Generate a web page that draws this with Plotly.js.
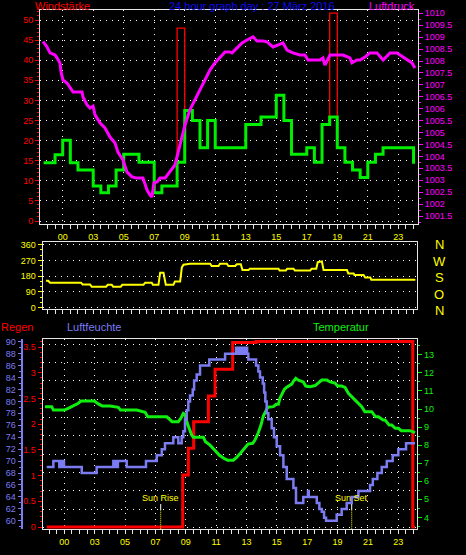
<!DOCTYPE html>
<html><head><meta charset="utf-8">
<script src="https://cdn.plot.ly/plotly-3.0.1.min.js"></script>
<style>html,body{margin:0;padding:0;background:#000;overflow:hidden}#chart{width:466px;height:555px}</style>
</head><body><div id="chart"></div>
<script>
// ---------- data (hours; tick "00" sits at hour 1) ----------
const hourTicks  = [1,3,5,7,9,11,13,15,17,19,21,23];
const hourLabels = ["00","03","05","07","09","11","13","15","17","19","21","23"];

const windTimes = [-0.25,0.5,1.0,1.5,2.0,3.0,3.5,4.0,4.5,5.0,6.0,7.0,7.5,8.5,9.0,9.5,10.0,10.5,11.0,13.0,14.0,15.0,15.5,16.0,17.0,17.5,18.0,18.5,19.0,19.5,20.0,20.5,21.0,21.5,22.0,24.0,24.1];
const windMean  = [14.5,16.5,20.1,14.5,12.7,8.7,7.0,8.7,12.7,16.6,14.6,7.0,8.7,14.6,27.5,25.0,18.2,25.0,18.2,24.0,25.9,31.3,25.0,16.6,18.2,14.6,24.0,25.9,18.2,14.6,12.7,10.8,14.6,16.6,18.2,14.6,14.6];
const windGust  = [14.5,16.5,20.1,14.5,12.7,8.7,7.0,8.7,12.7,16.6,14.6,7.0,8.7,48.0,27.5,25.0,18.2,25.0,18.2,24.0,25.9,31.3,25.0,16.6,18.2,14.6,24.0,51.7,18.2,14.6,12.7,10.8,14.6,16.6,18.2,14.6,14.6];

const pressTimes = [-0.29,-0.03,0.17,0.50,0.63,0.82,0.89,1.02,1.28,1.48,1.68,2.27,2.33,2.59,2.79,2.99,3.12,3.45,3.77,4.10,4.43,4.62,4.95,5.21,5.54,5.87,6.26,6.53,6.72,6.85,6.98,7.18,7.38,7.71,8.04,8.36,8.69,9.02,9.34,9.67,9.99,10.32,10.65,10.98,11.31,11.64,11.97,12.10,12.43,12.76,13.08,13.48,13.74,14.13,14.39,14.79,15.11,15.44,15.70,16.09,16.55,16.88,17.08,17.87,18.06,18.19,18.52,19.38,19.83,19.96,20.29,20.49,20.82,21.14,21.60,22.00,22.46,22.91,23.11,23.57,23.90,24.09];
const pressure   = [1008.81,1008.59,1008.34,1008.25,1008.13,1007.92,1007.54,1007.20,1007.08,1006.87,1006.70,1006.70,1006.49,1006.16,1006.03,1006.11,1005.74,1005.40,1005.19,1004.81,1004.56,1004.18,1003.85,1003.35,1003.14,1003.09,1003.09,1002.59,1002.38,1002.30,1002.89,1002.93,1003.09,1003.09,1003.35,1003.64,1004.48,1005.32,1005.95,1006.37,1006.78,1007.20,1007.62,1007.92,1008.13,1008.38,1008.38,1008.34,1008.55,1008.76,1008.88,1009.01,1008.84,1008.84,1008.80,1008.59,1008.67,1008.76,1008.46,1008.34,1008.25,1008.25,1008.04,1008.04,1008.13,1007.83,1008.25,1008.25,1008.13,1007.92,1008.04,1008.04,1008.17,1008.34,1008.34,1008.04,1008.34,1008.34,1008.25,1008.04,1007.92,1007.71];

const dirTimes  = [-0.09,0.05,0.17,2.20,2.30,2.79,2.90,3.84,3.95,4.21,4.30,4.80,4.90,6.29,6.40,6.83,6.90,7.27,7.38,7.60,7.75,8.25,8.35,8.69,8.80,8.91,9.34,10.66,10.75,11.20,11.30,11.75,11.85,12.29,12.40,12.66,12.77,13.17,13.25,15.13,15.20,15.61,15.70,16.11,16.20,17.21,17.30,17.60,17.70,17.97,18.08,19.61,19.70,20.05,20.10,20.70,20.80,21.14,21.20,24.09];
const direction = [154,154,143,143,133,133,120,120,131,131,120,120,131,131,143,143,131,131,200,200,131,131,150,150,230,246,251,251,238,238,251,251,238,238,248,248,215,215,223,223,213,213,223,223,213,213,223,223,260,265,215,215,196,196,187,187,173,173,160,160];
const dirLetters = ["N","W","S","O","N"];

const humTimes = [-0.16,0.28,0.67,0.72,0.77,0.82,0.87,0.92,0.98,2.15,3.13,4.23,4.28,4.33,4.38,4.43,4.48,4.53,5.11,6.38,7.09,7.42,7.63,8.18,8.51,8.73,8.84,8.95,9.06,9.17,9.28,9.46,9.55,9.72,9.94,10.55,11.59,12.31,12.40,12.48,12.56,12.64,12.72,12.80,12.88,12.96,13.04,13.12,13.63,13.78,13.89,14.07,14.16,14.24,14.33,14.44,14.66,14.81,14.99,15.21,15.43,15.65,16.09,16.26,16.74,17.05,17.10,17.63,17.80,17.96,18.11,18.24,18.94,19.27,19.60,19.93,20.37,21.14,21.32,21.62,21.91,22.24,22.63,23.00,23.51,24.10];
const humidity = [69,70,69,70,69,70,69,70,69,68,69,70,69,70,69,70,69,70,69,70,71,72,73,74,73,74,75,77,78.5,80,81,82,83.5,84.5,86,87,88,89,88,89,88,89,88,89,88,89,88,87,86,85,84,83,81.5,80,78,77,75.5,74,72.5,71,69,67,65.5,63,64,65,64,63,62,61.5,60.5,60,61,62,63,64,65,66,67,68,69,70,71,72,73,73];

const tempTimes = [-0.27,0.17,0.28,1.0,1.26,1.59,1.92,2.1,2.98,3.24,3.5,4.01,4.56,4.7,5.77,6.32,6.5,7.75,7.96,8.1,8.51,8.67,8.84,8.95,9.1,9.25,9.39,9.5,10.16,10.3,10.6,10.9,11.2,11.5,11.75,12.13,12.35,12.6,12.85,13.1,13.41,13.56,13.78,13.95,14.1,14.25,14.4,14.77,14.95,15.1,15.2,15.32,15.5,15.65,15.98,16.1,16.25,16.42,16.74,16.9,17.19,17.52,17.7,17.96,18.3,18.5,18.83,19.0,19.27,19.49,19.71,20.04,20.37,20.59,20.8,21.25,21.5,21.69,22.0,22.13,22.4,22.57,22.8,23.0,23.2,23.77,24.1];
const temperature = [10.13,10.13,9.94,9.94,10.04,10.17,10.32,10.44,10.44,10.28,10.17,10.17,10.09,9.94,9.94,9.82,9.57,9.57,9.43,9.30,9.30,9.48,9.76,9.7,9.21,8.84,8.56,8.43,8.43,8.19,8.0,7.73,7.45,7.27,7.17,7.17,7.32,7.55,7.82,8.06,8.1,8.28,8.7,9.1,9.6,9.9,10.1,10.13,10.26,10.26,10.6,10.8,11.1,11.2,11.38,11.55,11.7,11.6,11.5,11.27,11.24,11.3,11.42,11.6,11.6,11.5,11.44,11.27,11.27,11.2,10.87,10.6,10.32,10.13,9.85,9.85,9.57,9.57,9.39,9.39,9.11,9.11,8.93,8.93,8.80,8.80,8.69];

const rainTimes = [-0.15,8.80,9.17,9.52,10.49,10.93,12.09,13.63,23.95,24.10];
const rain      = [0,1.01,1.53,2.05,2.55,3.07,3.59,3.61,0,0];

const sunLabels = ["Sun Rise","Sun Set"];
const sunTimes  = [7.35,19.93];

// ---------- styling ----------
const W = 466, H = 555;
const fx = v => v / W;
const fy = v => 1 - v / H;
const FRAME = '#e6e6e6';
const GRID = {showgrid:true, gridcolor:'#ffffff', gridwidth:1, griddash:'1px,5px'};
const RED = '#ff0000', MAG = '#ff00ff', YEL = '#ffff00', GRN = '#10ee10', LAV = '#7c7cf2', BLUE = '#0c0cf0';
const TF = 9;

function xAxis(dom, rng, anchor, labels) {
  return Object.assign({
    domain: dom, range: rng, anchor: anchor, showline: true, linecolor: FRAME, linewidth: 1, mirror: true,
    zeroline: false, ticks: 'outside', ticklen: 4, tickcolor: FRAME, tickwidth: 1,
    tickmode: 'array', tickvals: hourTicks, ticktext: hourLabels, showticklabels: labels,
    tickfont: {color: YEL, size: TF},
    minor: {ticks: 'outside', ticklen: 4, tickcolor: FRAME, dtick: 0.5, tick0: 0, showgrid: false}
  }, labels ? GRID : {showgrid: false});
}

const traces = [
  {x: windTimes, y: windGust, xaxis: 'x', yaxis: 'y', mode: 'lines', line: {color: RED, width: 1.3, shape: 'hv'}},
  {x: windTimes, y: windMean, xaxis: 'x', yaxis: 'y', mode: 'lines', line: {color: '#00ee00', width: 3, shape: 'hv'}},
  {x: pressTimes, y: pressure, xaxis: 'x', yaxis: 'y2', mode: 'lines', line: {color: MAG, width: 3}},
  {x: dirTimes, y: direction, xaxis: 'x2', yaxis: 'y3', mode: 'lines', line: {color: YEL, width: 2}},
  {x: [], y: [], xaxis: 'x3', yaxis: 'y7', mode: 'lines'},
  {x: humTimes, y: humidity, xaxis: 'x3', yaxis: 'y6', mode: 'lines', line: {color: LAV, width: 2.5, shape: 'hv'}},
  {x: tempTimes, y: temperature, xaxis: 'x3', yaxis: 'y5', mode: 'lines', line: {color: GRN, width: 3}},
  {x: rainTimes, y: rain, xaxis: 'x3', yaxis: 'y4', mode: 'lines', line: {color: RED, width: 3, shape: 'hv'}}
];
traces.forEach(t => { t.hoverinfo = 'skip'; t.showlegend = false; });

const annotations = [
  {text: 'Windstärke', x: fx(34), y: fy(6), xanchor: 'left', font: {color: RED, size: 11}},
  {text: '24 hour graph day : 27 März 2016', x: fx(251.7), y: fy(6), xanchor: 'center', font: {color: BLUE, size: 11}},
  {text: 'Luftdruck', x: fx(416), y: fy(6), xanchor: 'right', font: {color: MAG, size: 11}},
  {text: 'Regen', x: fx(0), y: fy(326.7), xanchor: 'left', font: {color: RED, size: 11}},
  {text: 'Luftfeuchte', x: fx(66), y: fy(326.7), xanchor: 'left', font: {color: LAV, size: 11}},
  {text: 'Temperatur', x: fx(312), y: fy(326.7), xanchor: 'left', font: {color: GRN, size: 11}}
].map(a => Object.assign({xref: 'paper', yref: 'paper', yanchor: 'middle', showarrow: false, borderpad: 0}, a));

dirLetters.forEach((L, i) => annotations.push({
  text: L, xref: 'paper', yref: 'paper', x: fx(439), y: fy(244.8 + i * 16.45), xanchor: 'center', yanchor: 'middle',
  showarrow: false, borderpad: 0, font: {color: YEL, size: 13}
}));

const shapes = [];
sunLabels.forEach((lab, i) => {
  shapes.push({type: 'line', xref: 'x3', yref: 'y4 domain', x0: sunTimes[i], x1: sunTimes[i], y0: 0.1016, y1: 0.133, line: {color: '#ffffff', width: 1}});
  shapes.push({type: 'line', xref: 'x3', yref: 'y4 domain', x0: sunTimes[i], x1: sunTimes[i], y0: 0, y1: 0.1016, line: {color: YEL, width: 1, dash: '1px,1px'}});
  annotations.push({text: lab, xref: 'x3', yref: 'y4 domain', x: sunTimes[i], y: 0.165, xanchor: 'center', yanchor: 'middle',
    showarrow: false, borderpad: 0, font: {color: YEL, size: 9}});
});

const layout = {
  width: W, height: H, margin: {l: 0, r: 0, t: 0, b: 0},
  paper_bgcolor: '#000', plot_bgcolor: '#000', showlegend: false,
  font: {family: 'Liberation Sans, Arial, sans-serif', color: '#fff'},
  xaxis:  xAxis([fx(40), fx(418)], [-0.488, 24.291], 'y', true),
  xaxis2: xAxis([fx(42.5), fx(416.7)], [-0.323, 24.178], 'y3', false),
  xaxis3: xAxis([fx(42.5), fx(417.3)], [-0.436, 24.25], 'y4', true),
  yaxis: Object.assign({
    domain: [fy(224), fy(10)], range: [-0.746, 52.49], anchor: 'x', side: 'left',
    showline: true, linecolor: FRAME, mirror: true, zeroline: false,
    ticks: 'outside', ticklen: 4, tickcolor: RED, dtick: 5, tick0: 0, tickfont: {color: RED, size: TF},
    minor: {ticks: 'outside', ticklen: 2, tickcolor: RED, dtick: 1, showgrid: false}
  }, GRID),
  yaxis2: {
    overlaying: 'y', side: 'right', anchor: 'x', range: [1001.166, 1010.138], dtick: 0.5, tick0: 1001.5,
    tickformat: '.1~f',
    showgrid: false, zeroline: false, showline: false,
    ticks: 'outside', ticklen: 4, tickcolor: MAG, tickfont: {color: MAG, size: TF},
    minor: {ticks: 'outside', ticklen: 2, tickcolor: MAG, dtick: 0.25, showgrid: false}
  },
  yaxis3: Object.assign({
    domain: [fy(309.3), fy(241.7)], range: [-9.14, 377.1], anchor: 'x2', side: 'left',
    showline: true, linecolor: FRAME, mirror: true, zeroline: false,
    ticks: 'outside', ticklen: 4, tickcolor: YEL, dtick: 90, tick0: 0, tickfont: {color: YEL, size: TF},
    minor: {ticks: 'outside', ticklen: 2, tickcolor: YEL, dtick: 30, showgrid: false}
  }, GRID),
  yaxis4: {
    domain: [fy(529.3), fy(339.3)], range: [-0.0447, 3.652], anchor: 'x3', side: 'left',
    showline: true, linecolor: FRAME, mirror: true, zeroline: false, showgrid: false,
    ticks: 'outside', ticklen: 4, tickcolor: RED, dtick: 0.5, tick0: 0, tickfont: {color: RED, size: TF},
    minor: {ticks: 'outside', ticklen: 2, tickcolor: RED, dtick: 0.1, showgrid: false}
  },
  yaxis5: {
    overlaying: 'y4', side: 'right', anchor: 'x3', range: [3.34, 13.86], dtick: 1, tick0: 0,
    showgrid: false, zeroline: false, showline: false,
    ticks: 'outside', ticklen: 4, tickcolor: GRN, tickfont: {color: GRN, size: TF},
    minor: {ticks: 'outside', ticklen: 2, tickcolor: GRN, dtick: 0.5, showgrid: false}
  },
  yaxis6: {
    overlaying: 'y4', side: 'left', anchor: 'free', position: fx(21.5), range: [58.58, 90.4], dtick: 2, tick0: 0,
    showgrid: false, zeroline: false, showline: true, linecolor: LAV, linewidth: 2,
    ticks: 'outside', ticklen: 3, tickcolor: LAV, tickfont: {color: LAV, size: TF},
    minor: {ticks: 'outside', ticklen: 2, tickcolor: LAV, dtick: 1, showgrid: false}
  },
  yaxis7: Object.assign({
    overlaying: 'y4', side: 'right', anchor: 'x3', range: [0, 190], tickmode: 'linear', tick0: 2, dtick: 18.3,
    showticklabels: false, ticks: '', showline: false, zeroline: false
  }, GRID),
  annotations: annotations,
  shapes: shapes
};

Plotly.newPlot('chart', traces, layout, {staticPlot: true, displayModeBar: false});
</script></body></html>
